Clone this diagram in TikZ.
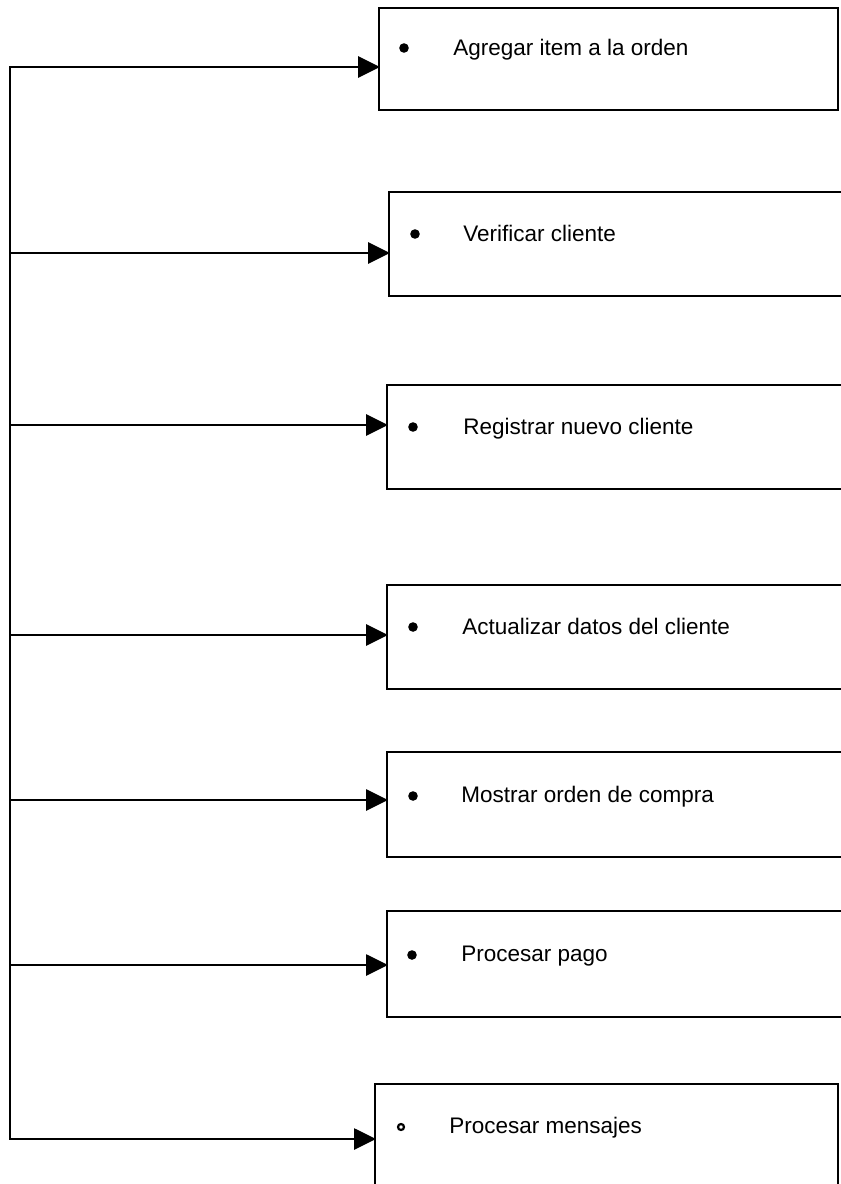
\documentclass[tikz,border=0pt]{standalone}
\usepackage{fontspec}
\setmainfont{Liberation Sans}
\usetikzlibrary{arrows.meta}
\begin{document}
\begin{tikzpicture}[x=1pt,y=-1pt,
  line width=2.8pt,
  taskbox/.style={draw=black, line width=2.8pt, rectangle, anchor=north west,
    inner sep=0pt, outer sep=0pt},
  tasktext/.style={anchor=base west, inner sep=0pt, font=\fontsize{22.5}{27}\selectfont},
  dot/.style={fill=black, draw=none},
  link/.style={-{Triangle[length=22pt,width=21pt]}, line width=2.8pt, shorten >=-1pt}]
\useasboundingbox (0,0) rectangle (841,1184);
\begin{scope}
\clip (0,0) rectangle (841,1184);

% task boxes
\node[taskbox, minimum width=459pt, minimum height=102pt] (b1) at (379,8) {};
\node[taskbox, minimum width=460pt, minimum height=104pt] (b2) at (389,192) {};
\node[taskbox, minimum width=462pt, minimum height=104pt] (b3) at (387,385) {};
\node[taskbox, minimum width=462pt, minimum height=104pt] (b4) at (387,585) {};
\node[taskbox, minimum width=462pt, minimum height=105pt] (b5) at (387,752) {};
\node[taskbox, minimum width=462pt, minimum height=106pt] (b6) at (387,911) {};
\node[taskbox, minimum width=463pt, minimum height=130pt] (b7) at (375,1084) {};

% labels
\node[tasktext] (t1) at (452,55) {Agregar item a la orden};
\node[tasktext] (t2) at (462,241) {Verificar cliente};
\node[tasktext] (t3) at (462,434) {Registrar nuevo cliente};
\node[tasktext] (t4) at (461,634) {Actualizar datos del cliente};
\node[tasktext] (t5) at (460,802) {Mostrar orden de compra};
\node[tasktext] (t6) at (460,961) {Procesar pago};
\node[tasktext] (t7) at (448,1133) {Procesar mensajes};

% bullets
\fill[dot] (404,48) circle (4.8pt);
\fill[dot] (415,234) circle (4.8pt);
\fill[dot] (413,427) circle (4.8pt);
\fill[dot] (413,627) circle (4.8pt);
\fill[dot] (413,796) circle (4.8pt);
\fill[dot] (412,955) circle (4.8pt);
\draw[line width=2.2pt] (401,1127) circle (3pt);

% branch points on the left rail
\coordinate (r1) at (10,67);
\coordinate (r2) at (10,253);
\coordinate (r3) at (10,425);
\coordinate (r4) at (10,635);
\coordinate (r5) at (10,800);
\coordinate (r6) at (10,965);
\coordinate (r7) at (10,1139);

% rail and branches
\draw[line cap=rect] (r1) -- (r7);
\foreach \i in {1,...,7} {
  \draw[link] (r\i) -- (r\i -| b\i.west);
}
\end{scope}
\end{tikzpicture}
\end{document}
